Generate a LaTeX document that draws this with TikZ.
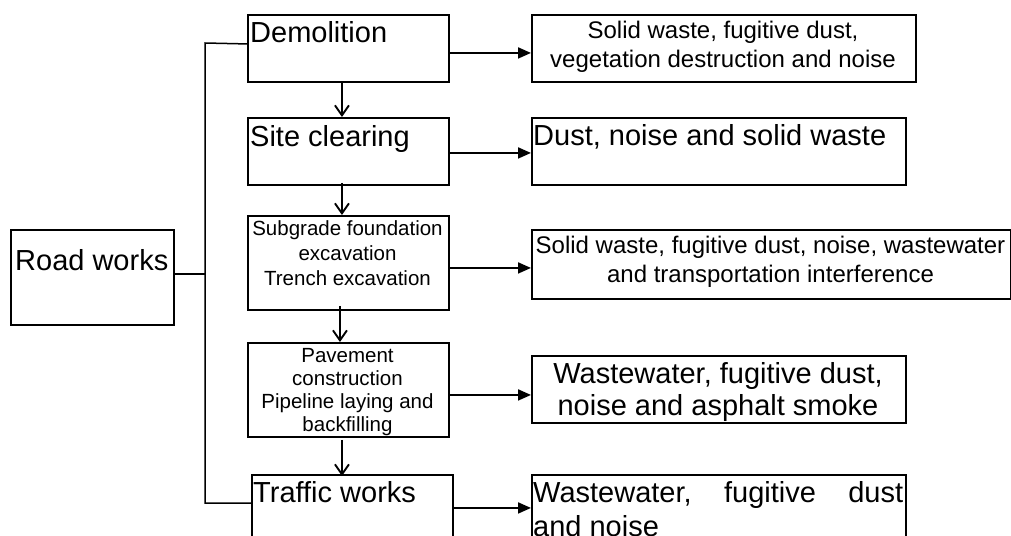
\documentclass[tikz,border=0pt]{standalone}
\usepackage{fontspec}
\setmainfont{Liberation Sans}
\usetikzlibrary{arrows.meta}

\newcommand{\bigtxt}{\fontsize{29}{34}\selectfont}
\newcommand{\midtxt}{\fontsize{24}{29}\selectfont}
\newcommand{\smalltxt}{\fontsize{20.5}{24}\selectfont}

\tikzset{
  box/.style={draw, line width=1.9pt, rectangle, inner sep=0pt, anchor=north west},
  lbl/.style={inner sep=0pt, anchor=base},
  lblw/.style={inner sep=0pt, anchor=base west},
  flow/.style={line width=1.9pt, -{Triangle[length=13pt,width=11pt]}},
  down/.style={line width=1.9pt, -{Straight Barb[length=10pt,width=14pt,line width=1.9pt]}},
  link/.style={line width=1.5pt}
}

\begin{document}
\begin{tikzpicture}[x=1pt,y=-1pt]
\clip (0,0) rectangle (1011,535);
\fill[white] (0,0) rectangle (1011,535);

% process stages
\node[box, minimum width=163pt, minimum height=95pt] (road) at (10,229) {};
\node[box, minimum width=201pt, minimum height=67pt] (dem)  at (247,14)  {};
\node[box, minimum width=201pt, minimum height=67pt] (site) at (247,117) {};
\node[box, minimum width=201pt, minimum height=94pt] (sub)  at (247,215) {};
\node[box, minimum width=201pt, minimum height=94pt] (pave) at (247,342) {};
\node[box, minimum width=201pt, minimum height=90pt] (traf) at (251,474) {};

% impacts of each stage
\node[box, minimum width=384pt, minimum height=67pt] (r1) at (531,14)  {};
\node[box, minimum width=374pt, minimum height=67pt] (r2) at (531,117) {};
\node[box, minimum width=479pt, minimum height=69pt] (r3) at (531,229) {};
\node[box, minimum width=374pt, minimum height=67pt] (r4) at (531,355) {};
\node[box, minimum width=374pt, minimum height=90pt] (r5) at (531,474) {};

% labels
\node[lblw, font=\bigtxt] (troad) at (15,270)  {Road works};
\node[lblw, font=\bigtxt] (tdem)  at (250,43)  {Demolition};
\node[lblw, font=\bigtxt] (tsite) at (250,146) {Site clearing};
\node[lbl, font=\smalltxt] (tsub1) at (347.5,235) {Subgrade foundation};
\node[lbl, font=\smalltxt] (tsub2) at (347.5,260) {excavation};
\node[lbl, font=\smalltxt] (tsub3) at (347.5,285) {Trench excavation};
\node[lbl, font=\smalltxt] (tpav1) at (347.5,362) {Pavement};
\node[lbl, font=\smalltxt] (tpav2) at (347.5,385) {construction};
\node[lbl, font=\smalltxt] (tpav3) at (347.5,408) {Pipeline laying and};
\node[lbl, font=\smalltxt] (tpav4) at (347.5,431) {backfilling};
\node[lblw, font=\bigtxt] (ttraf) at (253,502) {Traffic works};

\node[lbl, font=\midtxt] (tr1a) at (723,38) {Solid waste, fugitive dust,};
\node[lbl, font=\midtxt] (tr1b) at (723,67) {vegetation destruction and noise};
\node[lblw, font=\bigtxt] (tr2) at (533,145) {Dust, noise and solid waste};
\node[lbl, font=\midtxt] (tr3a) at (770.5,253) {Solid waste, fugitive dust, noise, wastewater};
\node[lbl, font=\midtxt] (tr3b) at (770.5,282) {and transportation interference};
\node[lbl, font=\bigtxt] (tr4a) at (718,383) {Wastewater, fugitive dust,};
\node[lbl, font=\bigtxt] (tr4b) at (718,415) {noise and asphalt smoke};
\node[lblw, font=\bigtxt] (tr5a) at (533,502) {\makebox[370pt][s]{Wastewater,\hfill fugitive\hfill dust}};
\node[lblw, font=\bigtxt] (tr5b) at (533,536) {and noise};

% bracket from road works to the first and last stage
\coordinate (bt) at (205,43);
\coordinate (bb) at (205,503);
\coordinate (rw) at ([yshift=3.5pt]road.east);
\draw[link] ([yshift=4.5pt]dem.west) -- (bt) -- (bb) -- (bb -| traf.west);
\draw[link] (rw) -- (rw -| bt);

% sequence of stages
\coordinate (d1) at ([xshift=-6.5pt,yshift=1pt]dem.south);
\coordinate (d2) at ([xshift=-6.5pt,yshift=3pt]site.south);
\coordinate (d3) at ([xshift=-8.5pt,yshift=5pt]sub.south);
\coordinate (d4) at ([xshift=-6.5pt,yshift=-2pt]pave.south);
\draw[down] (d1) -- (d1 |- site.north);
\draw[down] (d2) -- (d2 |- sub.north);
\draw[down] (d3) -- (d3 |- pave.north);
\draw[down] (d4) -- ([yshift=-2pt]d4 |- traf.north);

% stage to impact
\draw[flow] ([yshift=-4.5pt]dem.east)  -- ([yshift=-4.5pt]dem.east -| r1.west);
\draw[flow] ([yshift=-1.5pt]site.east) -- ([yshift=-1.5pt]site.east -| r2.west);
\draw[flow] ([yshift=-5pt]sub.east)    -- ([yshift=-5pt]sub.east -| r3.west);
\draw[flow] ([yshift=-5pt]pave.east)   -- ([yshift=-5pt]pave.east -| r4.west);
\draw[flow] ([yshift=12pt]traf.east)   -- ([yshift=12pt]traf.east -| r5.west);
\end{tikzpicture}
\end{document}
